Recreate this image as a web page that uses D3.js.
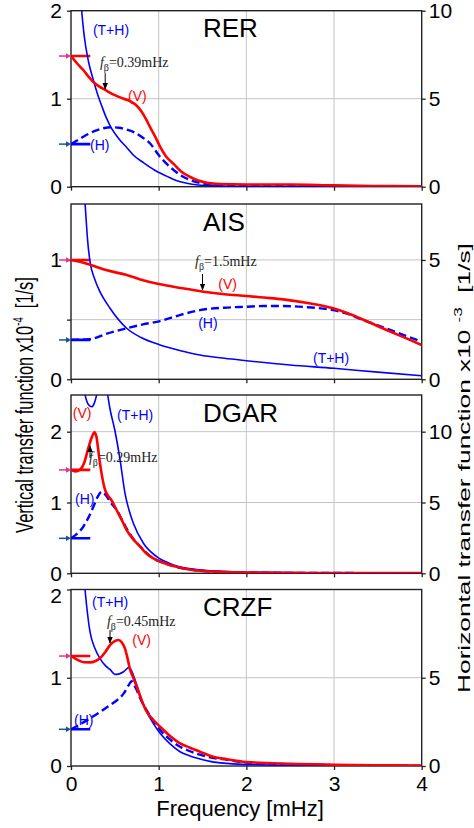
<!DOCTYPE html>
<html>
<head>
<meta charset="utf-8">
<script src="https://cdn.jsdelivr.net/npm/d3@7"></script>
<style>
  html, body { margin: 0; padding: 0; background: #fff; }
  svg { display: block; }
  text { font-family: "Liberation Sans", Arial, Helvetica, sans-serif; }
</style>
</head>
<body>
<svg id="chart" width="474" height="828"></svg>
<script>
// ---------------- DATA ----------------
const stations = ["RER", "AIS", "DGAR", "CRZF"];
const xTicks = [0, 1, 2, 3, 4];
const xTickLabels = ["0", "1", "2", "3", "4"];
const fBeta = ["0.39", "1.5", "0.29", "0.45"];

// static (flat) levels: vertical (left axis) and horizontal (right axis)
const staticV = [1.485, 1.0, 1.46, 1.246];
const staticH = [2.42, 1.65, 2.47, 2.08];

// left-axis ticks / right-axis ticks per panel
const leftTicks = [[0, 1, 2], [0, 0.5, 1], [0, 1, 2], [0, 1, 2]];
const leftTickLabels = [["0", "1", "2"], ["0", "", "1"], ["0", "1", "2"], ["0", "1", "2"]];
const rightTicks = [[0, 5, 10], [0, 5], [0, 5, 10], [0, 5]];
const gridY = [[1], [0.5, 1], [1, 2], [1]];

// Vertical transfer function (V), x1e-4 1/s  [freq mHz, value]
const rerV = [[0,1.485],[0.07,1.40],[0.14,1.326],[0.2,1.25],[0.255,1.19],[0.32,1.14],[0.39,1.10],[0.5,1.04],[0.6,1.00],[0.68,0.97],[0.75,0.92],[0.8,0.86],[0.86,0.76],[0.9,0.68],[0.96,0.57],[1.016,0.455],[1.08,0.35],[1.17,0.26],[1.26,0.17],[1.36,0.11],[1.45,0.07],[1.55,0.045],[1.7,0.03],[2,0.025],[2.5,0.025],[3,0.015],[3.5,0.008],[4,0.005]];
const aisV = [[0,1.0],[0.1,0.985],[0.217,0.96],[0.4,0.915],[0.635,0.874],[0.8,0.835],[1.016,0.796],[1.25,0.765],[1.51,0.734],[1.75,0.713],[2.005,0.698],[2.2,0.685],[2.42,0.67],[2.7,0.64],[2.99,0.595],[3.15,0.555],[3.3,0.51],[3.47,0.455],[3.64,0.40],[3.82,0.345],[4.0,0.288]];
const dgarV = [[0,1.46],[0.05,1.44],[0.1,1.46],[0.15,1.56],[0.2,1.78],[0.24,1.93],[0.266,1.99],[0.29,1.93],[0.31,1.75],[0.331,1.55],[0.36,1.33],[0.388,1.18],[0.42,1.1],[0.46,1.035],[0.52,0.894],[0.58,0.75],[0.635,0.61],[0.71,0.48],[0.79,0.376],[0.86,0.28],[0.94,0.21],[1.05,0.15],[1.17,0.103],[1.3,0.065],[1.47,0.037],[1.7,0.02],[2,0.01],[3,0.004],[4,0.002]];
const crzfV = [[0,1.246],[0.08,1.2],[0.15,1.175],[0.217,1.174],[0.28,1.19],[0.33,1.22],[0.39,1.29],[0.445,1.37],[0.5,1.415],[0.54,1.427],[0.58,1.4],[0.616,1.33],[0.645,1.22],[0.67,1.106],[0.71,1.0],[0.75,0.898],[0.8,0.76],[0.864,0.615],[0.94,0.52],[1.016,0.445],[1.13,0.34],[1.244,0.256],[1.35,0.21],[1.47,0.162],[1.6,0.11],[1.78,0.076],[2,0.045],[2.5,0.025],[3,0.015],[3.5,0.008],[4,0.005]];

// Horizontal transfer function (H), x1e-3 1/s
const rerH = [[0,2.42],[0.07,2.62],[0.14,2.84],[0.22,3.05],[0.29,3.2],[0.37,3.32],[0.46,3.38],[0.55,3.35],[0.63,3.25],[0.71,3.12],[0.8,2.85],[0.9,2.47],[1.0,1.8],[1.08,1.35],[1.17,0.95],[1.26,0.62],[1.36,0.38],[1.5,0.18],[1.7,0.08],[2,0.05],[3,0.02],[4,0.01]];
const aisH = [[0,1.65],[0.217,1.68],[0.4,1.9],[0.635,2.14],[0.82,2.3],[1.016,2.44],[1.25,2.7],[1.47,2.9],[1.75,3.0],[2.0,3.04],[2.2,3.07],[2.42,3.07],[2.7,3.02],[2.99,2.9],[3.15,2.75],[3.3,2.53],[3.47,2.3],[3.64,2.07],[3.82,1.82],[4,1.58]];
const dgarH = [[0,2.47],[0.07,2.8],[0.14,3.29],[0.2,3.95],[0.255,4.7],[0.3,5.35],[0.35,5.76],[0.4,5.5],[0.445,5.06],[0.52,4.47],[0.58,3.8],[0.635,3.15],[0.71,2.45],[0.79,1.88],[0.86,1.45],[0.94,1.05],[1.05,0.75],[1.17,0.5],[1.3,0.32],[1.47,0.18],[1.7,0.1],[2,0.05],[3,0.02],[4,0.01]];
const crzfH = [[0,2.08],[0.1,2.35],[0.217,2.7],[0.33,3.05],[0.445,3.45],[0.53,3.75],[0.6,4.1],[0.66,4.6],[0.69,4.8],[0.72,4.6],[0.75,4.3],[0.79,3.83],[0.864,3.15],[0.94,2.55],[1.016,2.04],[1.13,1.5],[1.244,1.09],[1.35,0.85],[1.47,0.64],[1.6,0.48],[1.78,0.35],[2,0.2],[2.5,0.1],[3,0.05],[4,0.02]];

// Tipper + horizontal (T+H), x1e-3 1/s
const rerTH = [[0.1,11.5],[0.122,10],[0.15,8.6],[0.2,7.1],[0.255,6.06],[0.3,5.3],[0.35,4.6],[0.4,3.95],[0.464,3.3],[0.55,2.7],[0.64,2.2],[0.71,1.8],[0.83,1.35],[0.95,0.95],[1.09,0.6],[1.2,0.35],[1.32,0.2],[1.45,0.1],[1.6,0.05],[2,0.02],[3,0.01],[4,0.005]];
const aisTH = [[0.13,9],[0.16,7.4],[0.19,5.8],[0.217,4.93],[0.27,4.2],[0.33,3.67],[0.445,2.98],[0.635,2.14],[0.8,1.75],[1.016,1.44],[1.25,1.2],[1.47,1.02],[1.75,0.88],[2.0,0.78],[2.5,0.6],[3,0.46],[3.5,0.3],[4,0.15]];
const dgarTH = [[0.12,14],[0.16,12.6],[0.2,11.9],[0.236,11.76],[0.265,12.0],[0.293,12.6],[0.33,13.8],[0.37,14],[0.41,12.9],[0.445,11.6],[0.5,10.1],[0.56,8.0],[0.616,5.65],[0.66,4.5],[0.711,3.53],[0.826,2.12],[0.978,1.17],[1.17,0.59],[1.47,0.24],[2,0.07],[3,0.02],[4,0.01]];
const crzfTH = [[0.12,12.5],[0.16,10],[0.217,7.6],[0.27,6.7],[0.33,6.1],[0.39,5.7],[0.445,5.47],[0.5,5.19],[0.55,5.22],[0.6,5.34],[0.662,5.59],[0.71,5.17],[0.75,4.6],[0.79,4.0],[0.864,3.07],[0.94,2.4],[1.016,1.85],[1.13,1.25],[1.244,0.81],[1.35,0.58],[1.47,0.4],[1.6,0.25],[1.78,0.15],[2,0.08],[3,0.02],[4,0.01]];

const seriesV = [rerV, aisV, dgarV, crzfV];
const seriesH = [rerH, aisH, dgarH, crzfH];
const seriesTH = [rerTH, aisTH, dgarTH, crzfTH];

// ---------------- LAYOUT ----------------
const X0 = 71, X1 = 421.7;
const panels = [
  { top: 10.7, bottom: 186.7, leftMax: 2.0 },
  { top: 204,  bottom: 379.3, leftMax: 1.469 },
  { top: 395,  bottom: 573.3, leftMax: 2.518 },
  { top: 589.5, bottom: 766,  leftMax: 2.0 }
];
// label placements in data units (f, left-axis value)
const labelPos = [
  { th: [0.25, 1.724], v: [0.65, 0.974], h: [0.217, 0.417], txt: [0.33, 1.36], arrow: [0.39, 1.29, 1.11] },
  { th: [2.76, 0.137], v: [1.68, 0.757], h: [1.45, 0.43],  txt: [1.415, 0.95], arrow: [1.5, 0.883, 0.749] },
  { th: [0.525, 2.165], v: [0.02, 2.19], h: [0.046, 0.98], txt: [0.205, 1.576], arrow: [0.217, 1.63, 1.80] },
  { th: [0.24, 1.80],  v: [0.70, 1.37], h: [0.034, 0.464], txt: [0.41, 1.589], arrow: [0.445, 1.54, 1.393] }
];

const RED = "#ff0000", BLUE = "#0000ff", PINK = "#e8318c", NAVY = "#1f4f96";
const AXIS = "#222", GRID = "#c4c4c4";

const svg = d3.select("#chart");
const defs = svg.append("defs");
defs.append("marker").attr("id", "ah").attr("viewBox", "0 0 10 10")
  .attr("refX", 9).attr("refY", 5).attr("markerWidth", 7).attr("markerHeight", 7)
  .attr("markerUnits", "userSpaceOnUse").attr("orient", "auto")
  .append("path").attr("d", "M0,1 L10,5 L0,9 Z").attr("fill", "#000");

const x = d3.scaleLinear().domain([0, 4]).range([X0, X1]);

panels.forEach((p, i) => {
  const yL = d3.scaleLinear().domain([0, p.leftMax]).range([p.bottom, p.top]);
  const yR = d3.scaleLinear().domain([0, p.leftMax * 5]).range([p.bottom, p.top]);
  const g = svg.append("g");

  defs.append("clipPath").attr("id", "clip" + i).append("rect")
    .attr("x", X0).attr("y", p.top).attr("width", X1 - X0).attr("height", p.bottom - p.top);

  // grid
  g.selectAll(".gx").data([1, 2, 3]).join("line")
    .attr("x1", d => x(d)).attr("x2", d => x(d)).attr("y1", p.top).attr("y2", p.bottom)
    .attr("stroke", GRID).attr("stroke-width", 1);
  g.selectAll(".gy").data(gridY[i]).join("line").attr("class", "gy")
    .attr("x1", X0).attr("x2", X1).attr("y1", d => yL(d)).attr("y2", d => yL(d))
    .attr("stroke", GRID).attr("stroke-width", 1);

  // axes
  const axL = d3.axisLeft(yL).tickValues(leftTicks[i]).tickSize(4).tickPadding(5)
    .tickFormat((d, k) => leftTickLabels[i][k]);
  const gl = g.append("g").attr("transform", `translate(${X0},0)`).call(axL);
  const axR = d3.axisRight(yR).tickValues(rightTicks[i]).tickSize(4).tickPadding(3)
    .tickFormat(d3.format("d"));
  const gr = g.append("g").attr("transform", `translate(${X1},0)`).call(axR);
  const axB = d3.axisBottom(x).tickValues(xTicks).tickSize(4).tickPadding(6)
    .tickFormat((d, k) => i === 3 ? xTickLabels[k] : "");
  const gb = g.append("g").attr("transform", `translate(0,${p.bottom})`).call(axB);
  [gl, gr, gb].forEach(a => {
    a.select(".domain").remove();
    a.selectAll("line").attr("stroke", AXIS).attr("stroke-width", 1.3);
    a.selectAll("text").attr("font-size", 21).attr("fill", "#000")
      .style("font-family", '"Liberation Sans", Arial, sans-serif');
  });
  gb.selectAll("text").attr("dy", "0.72em");
  // the top label of the last panel sits slightly below its tick (as in the reference)
  if (i === 3) gl.selectAll(".tick text").filter(d => d === 2).attr("dy", "0.62em");

  // frame
  g.append("rect").attr("x", X0).attr("y", p.top).attr("width", X1 - X0).attr("height", p.bottom - p.top)
    .attr("fill", "none").attr("stroke", AXIS).attr("stroke-width", 1.4);

  const cg = g.append("g").attr("clip-path", `url(#clip${i})`);
  const lineL = d3.line().x(d => x(d[0])).y(d => yL(d[1])).curve(d3.curveMonotoneX);
  const lineR = d3.line().x(d => x(d[0])).y(d => yR(d[1])).curve(d3.curveMonotoneX);

  // static flat segments
  cg.append("line").attr("x1", x(0)).attr("x2", x(0.22)).attr("y1", yL(staticV[i])).attr("y2", yL(staticV[i]))
    .attr("stroke", RED).attr("stroke-width", 2.6);
  cg.append("line").attr("x1", x(0)).attr("x2", x(0.22)).attr("y1", yR(staticH[i])).attr("y2", yR(staticH[i]))
    .attr("stroke", BLUE).attr("stroke-width", 2.6);

  // curves
  cg.append("path").datum(seriesTH[i]).attr("d", lineR).attr("fill", "none")
    .attr("stroke", BLUE).attr("stroke-width", 1.6);
  cg.append("path").datum(seriesH[i]).attr("d", lineR).attr("fill", "none")
    .attr("stroke", BLUE).attr("stroke-width", 2.4).attr("stroke-dasharray", "8,4");
  cg.append("path").datum(seriesV[i]).attr("d", lineL).attr("fill", "none")
    .attr("stroke", RED).attr("stroke-width", 2.6);

  // left arrows marking static levels
  [[staticV[i], PINK, yL], [staticH[i], NAVY, yR]].forEach(([v, c, s]) => {
    const yy = s(v);
    g.append("line").attr("x1", X0 - 12).attr("x2", X0 - 4).attr("y1", yy).attr("y2", yy)
      .attr("stroke", c).attr("stroke-width", 1.5);
    g.append("path").attr("d", `M${X0 - 5},${yy - 2.8} L${X0},${yy} L${X0 - 5},${yy + 2.8} Z`).attr("fill", c);
  });

  // station name
  g.append("text").attr("x", 203).attr("y", p.top + 26.5).attr("font-size", 26).attr("fill", "#000")
    .text(stations[i]);

  // curve labels
  const L = labelPos[i];
  g.append("text").attr("x", x(L.th[0])).attr("y", yL(L.th[1])).attr("font-size", 14).attr("fill", BLUE).text("(T+H)");
  g.append("text").attr("x", x(L.v[0])).attr("y", yL(L.v[1])).attr("font-size", 14).attr("fill", RED).text("(V)");
  g.append("text").attr("x", x(L.h[0])).attr("y", yL(L.h[1])).attr("font-size", 14).attr("fill", BLUE).text("(H)");

  // f_beta annotation
  const t = g.append("text").attr("x", x(L.txt[0])).attr("y", yL(L.txt[1]))
    .style("font-family", '"Liberation Serif", "Times New Roman", serif').attr("font-size", 14).attr("fill", "#222");
  t.append("tspan").attr("font-style", "italic").text("f");
  t.append("tspan").attr("font-size", 10).attr("dy", 4).text("β");
  t.append("tspan").attr("dy", -4).text("=" + fBeta[i] + "mHz");
  g.append("line").attr("x1", x(L.arrow[0])).attr("x2", x(L.arrow[0]))
    .attr("y1", yL(L.arrow[1])).attr("y2", yL(L.arrow[2]))
    .attr("stroke", "#000").attr("stroke-width", 1).attr("marker-end", "url(#ah)");
});

// axis titles
const lt = svg.append("text").attr("font-size", 24).attr("fill", "#000").attr("xml:space", "preserve");
lt.append("tspan").text("Vertical transfer function x10");
lt.append("tspan").attr("font-size", 14).attr("dy", -10).text("-4");
lt.append("tspan").attr("dy", 10).text("  [1/s]");
{
  const len = lt.node().getComputedTextLength();
  const s = 256 / len;
  lt.attr("text-anchor", "middle")
    .attr("transform", `translate(33,405) rotate(-90) scale(${s},1)`);
}
const rt = svg.append("text").attr("font-size", 17).attr("fill", "#000").attr("xml:space", "preserve");
rt.append("tspan").text("Horizontal transfer function x10 ");
rt.append("tspan").attr("font-size", 11).attr("dy", -8).text("-3");
rt.append("tspan").attr("dy", 8).text("  [1/s]");
{
  const len = rt.node().getComputedTextLength();
  const s = 450 / len;
  rt.attr("text-anchor", "middle")
    .attr("transform", `translate(470,468) rotate(-90) scale(${s},1)`);
}
svg.append("text").attr("x", 240).attr("y", 816).attr("text-anchor", "middle")
  .attr("font-size", 22).attr("fill", "#000").text("Frequency [mHz]");
</script>
</body>
</html>
